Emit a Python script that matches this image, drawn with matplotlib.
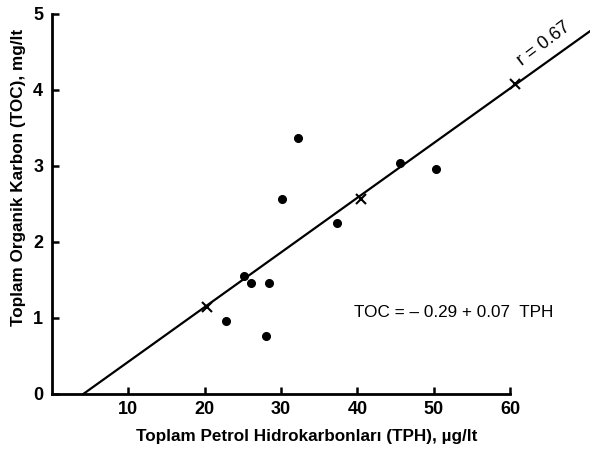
import matplotlib.pyplot as plt
import numpy as np

# measured points (TPH, TOC)
tph = [32.2, 45.6, 50.3, 37.3, 30.1, 25.1, 26.1, 28.4, 22.8, 28.0]
toc = [3.37, 3.04, 2.96, 2.25, 2.57, 1.55, 1.46, 1.46, 0.96, 0.76]

# points marked on the regression line
cross_tph = [20.3, 40.4, 60.6]
cross_toc = [1.15, 2.56, 4.07]

# regression line drawn in the figure
line_x0 = 4.15
line_slope = 0.072

xticks = [10, 20, 30, 40, 50, 60]
yticks = [0, 1, 2, 3, 4, 5]

fig = plt.figure(figsize=(5.9, 4.54), dpi=100)
ax = fig.add_axes([0.0874, 0.1322, 0.9126, 0.8678])
ax.set_xlim(0, 70.4)
ax.set_ylim(0, 5.18)

for s in ['top', 'right']:
    ax.spines[s].set_visible(False)
ax.spines['left'].set_bounds(0, 5)
ax.spines['bottom'].set_bounds(0, 60)
ax.spines['left'].set_linewidth(2)
ax.spines['bottom'].set_linewidth(2)

tick_font = ['Liberation Sans', 'DejaVu Sans']
ax.set_xticks(xticks)
ax.set_yticks(yticks)
ax.set_xticklabels([str(t) for t in xticks], family=tick_font, fontweight='bold', fontsize=13)
ax.set_yticklabels([str(t) for t in yticks], family=tick_font, fontweight='bold', fontsize=13)
ax.tick_params(direction='in', length=5, width=1.8, pad=5)
ax.tick_params(axis='y', pad=6)

lx = np.array([line_x0, 70.4])
ax.plot(lx, line_slope * (lx - line_x0), color='black', lw=1.6, clip_on=False)

ax.plot(tph, toc, 'o', color='black', ms=5.5, clip_on=False)
ax.plot(cross_tph, cross_toc, 'x', color='black', ms=7, mew=1.5, clip_on=False)

ax.text(64.4, 4.6, 'r = 0.67', rotation=37, ha='center', va='center',
        family=tick_font, fontsize=13)
ax.text(39.5, 1.07, 'TOC = \u2013 0.29 + 0.07  TPH', ha='left', va='center',
        family=tick_font, fontsize=12.3)

fig.text(0.519, 0.038, 'Toplam Petrol Hidrokarbonları (TPH), µg/lt', ha='center', va='center',
         family='Liberation Sans', fontweight='bold', fontsize=12.3)
fig.text(0.031, 0.61, 'Toplam Organik Karbon (TOC), mg/lt', ha='center', va='center',
         rotation=90, family='Liberation Sans', fontweight='bold', fontsize=12.3)

fig.savefig('out.png', dpi=100)
